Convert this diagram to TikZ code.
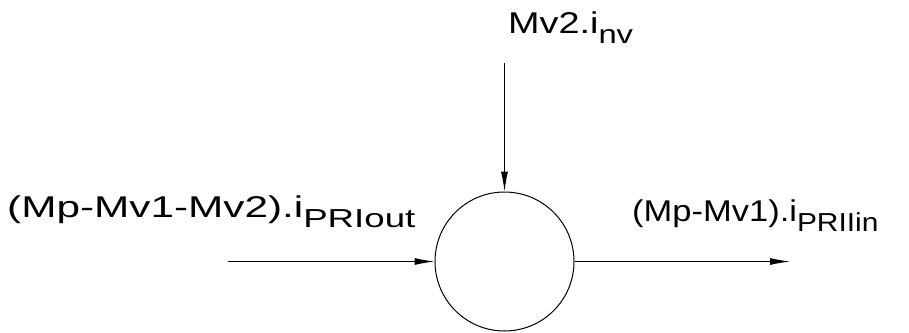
\documentclass[tikz,border=0pt]{standalone}
\usepackage{fontspec}
\setmainfont{Liberation Sans}
\usetikzlibrary{arrows.meta}
\tikzset{
  flow/.style={draw=black, line width=1pt, -{Latex[length=20pt,width=7pt]}},
  lbl/.style={inner sep=0pt, anchor=base west, font=\fontsize{30}{34}\selectfont},
  junction/.style={circle, draw=black, line width=1pt, minimum size=139pt, inner sep=0pt}
}
\newcommand{\lowsub}[1]{\raisebox{-10pt}{\fontsize{26}{30}\selectfont #1}}
\begin{document}
\begin{tikzpicture}[x=1pt,y=-1pt]
\useasboundingbox (0,0) rectangle (909,332);
\node[junction] (j) at (504.5,261.5) {};
\coordinate (inL) at (228,261.5);
\coordinate (outR) at (790,261.5);
\coordinate (inT) at (504.5,63);
\draw[flow] (inL) -- (j.west);
\draw[flow] (j.east) -- (outR);
\draw[flow] (inT) -- (j.north);
\node[lbl] (tl) at (508,33) {\scalebox{1.26}[1]{Mv2.i\lowsub{nv}}};
\node[lbl] (ll) at (7,217) {\scalebox{1.41}[1]{(Mp-Mv1-Mv2).i\lowsub{PRIout}}};
\node[lbl] (rl) at (632,221) {\scalebox{1.15}[1]{(Mp-Mv1).i\lowsub{PRIIin}}};
\end{tikzpicture}
\end{document}
